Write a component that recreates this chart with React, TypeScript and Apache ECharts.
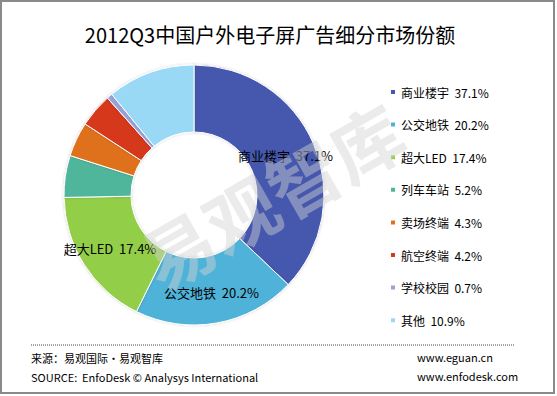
import React, { useEffect, useRef } from "react";
import * as echarts from "echarts";

const TITLE = "2012Q3中国户外电子屏广告细分市场份额";
const categories = ["商业楼宇", "公交地铁", "超大LED", "列车车站", "卖场终端", "航空终端", "学校校园", "其他"];
const shares = [37.1, 20.2, 17.4, 5.2, 4.3, 4.2, 0.7, 10.9];
const colors = ["#4459AE", "#50B2D8", "#93CE48", "#4FB69C", "#E0711E", "#D6391F", "#9BA4D9", "#9AD9F5"];
const labelled = ["商业楼宇", "公交地铁", "超大LED"];
const sourceCn = "来源：易观国际·易观智库";
const sourceEn = "SOURCE:  EnfoDesk © Analysys International";
const site1 = "www.eguan.cn";
const site2 = "www.enfodesk.com";
const watermark = "易观智库";

const FONT = "'Noto Sans CJK SC', 'Noto Sans', sans-serif";

export default function App() {
  const ref = useRef<HTMLDivElement>(null);
  useEffect(() => {
    if (!ref.current) return;
    const chart = echarts.init(ref.current, undefined, { renderer: "svg" });
    const data = categories.map((name, i) => ({
      name,
      value: shares[i],
      itemStyle: { color: colors[i] },
      label: { show: labelled.includes(name) },
    }));
    chart.setOption({
      animation: false,
      backgroundColor: "#fff",
      textStyle: { fontFamily: FONT },
      title: {
        text: TITLE,
        left: 265,
        textAlign: "center",
        top: 19,
        textStyle: { fontSize: 20, fontWeight: "normal", color: "#000", fontFamily: FONT },
      },
      legend: {
        orient: "vertical",
        left: 384,
        top: 80,
        icon: "rect",
        itemWidth: 6,
        itemHeight: 6,
        itemGap: 18.6,
        selectedMode: false,
        data: categories,
        formatter: (name: string) => name + "  " + shares[categories.indexOf(name)] + "%",
        textStyle: { fontSize: 12, color: "#000", lineHeight: 14, fontFamily: FONT },
      },
      series: [
        {
          type: "pie",
          center: [194, 195],
          radius: [63, 130],
          startAngle: 90,
          clockwise: true,
          avoidLabelOverlap: false,
          itemStyle: {
            borderColor: "#fff",
            borderWidth: 1,
            shadowBlur: 3,
            shadowColor: "rgba(0,0,0,0.18)",
          },
          label: {
            position: "inside",
            formatter: (p: any) => p.name + "  " + p.value + "%",
            color: "#000",
            fontSize: 13,
            fontFamily: FONT,
          },
          labelLine: { show: false },
          emphasis: { disabled: true },
          data,
        },
      ],
      graphic: [
        {
          type: "text",
          x: 271,
          y: 194,
          rotation: 0.52,
          z: 100,
          silent: true,
          style: {
            text: watermark,
            fontSize: 72,
            fontWeight: "bold",
            fontFamily: FONT,
            fill: "rgba(210,210,210,0.45)",
            align: "center",
            verticalAlign: "middle",
          },
        },
        {
          type: "rect",
          shape: { x: 1, y: 1, width: 553, height: 392 },
          z: 50,
          silent: true,
          style: { fill: "none", stroke: "#8a8a8a", lineWidth: 2 },
        },
        {
          type: "line",
          shape: { x1: 31, y1: 345, x2: 514, y2: 345 },
          silent: true,
          style: { stroke: "#444", lineWidth: 1, lineDash: [1, 1] },
        },
        {
          type: "text",
          x: 31,
          y: 358,
          silent: true,
          style: { text: sourceCn, fontSize: 11, fill: "#000", fontFamily: FONT, verticalAlign: "middle" },
        },
        {
          type: "text",
          x: 31,
          y: 377,
          silent: true,
          style: { text: sourceEn, fontSize: 11, fill: "#000", fontFamily: FONT, verticalAlign: "middle" },
        },
        {
          type: "text",
          x: 417,
          y: 357,
          silent: true,
          style: { text: site1, fontSize: 11, fill: "#000", fontFamily: FONT, verticalAlign: "middle" },
        },
        {
          type: "text",
          x: 417,
          y: 376,
          silent: true,
          style: { text: site2, fontSize: 11, fill: "#000", fontFamily: FONT, verticalAlign: "middle" },
        },
      ],
    });
    return () => chart.dispose();
  }, []);
  return (
    <div
      ref={ref}
      style={{ position: "fixed", left: 0, top: 0, width: 557, height: 396 }}
    />
  );
}
